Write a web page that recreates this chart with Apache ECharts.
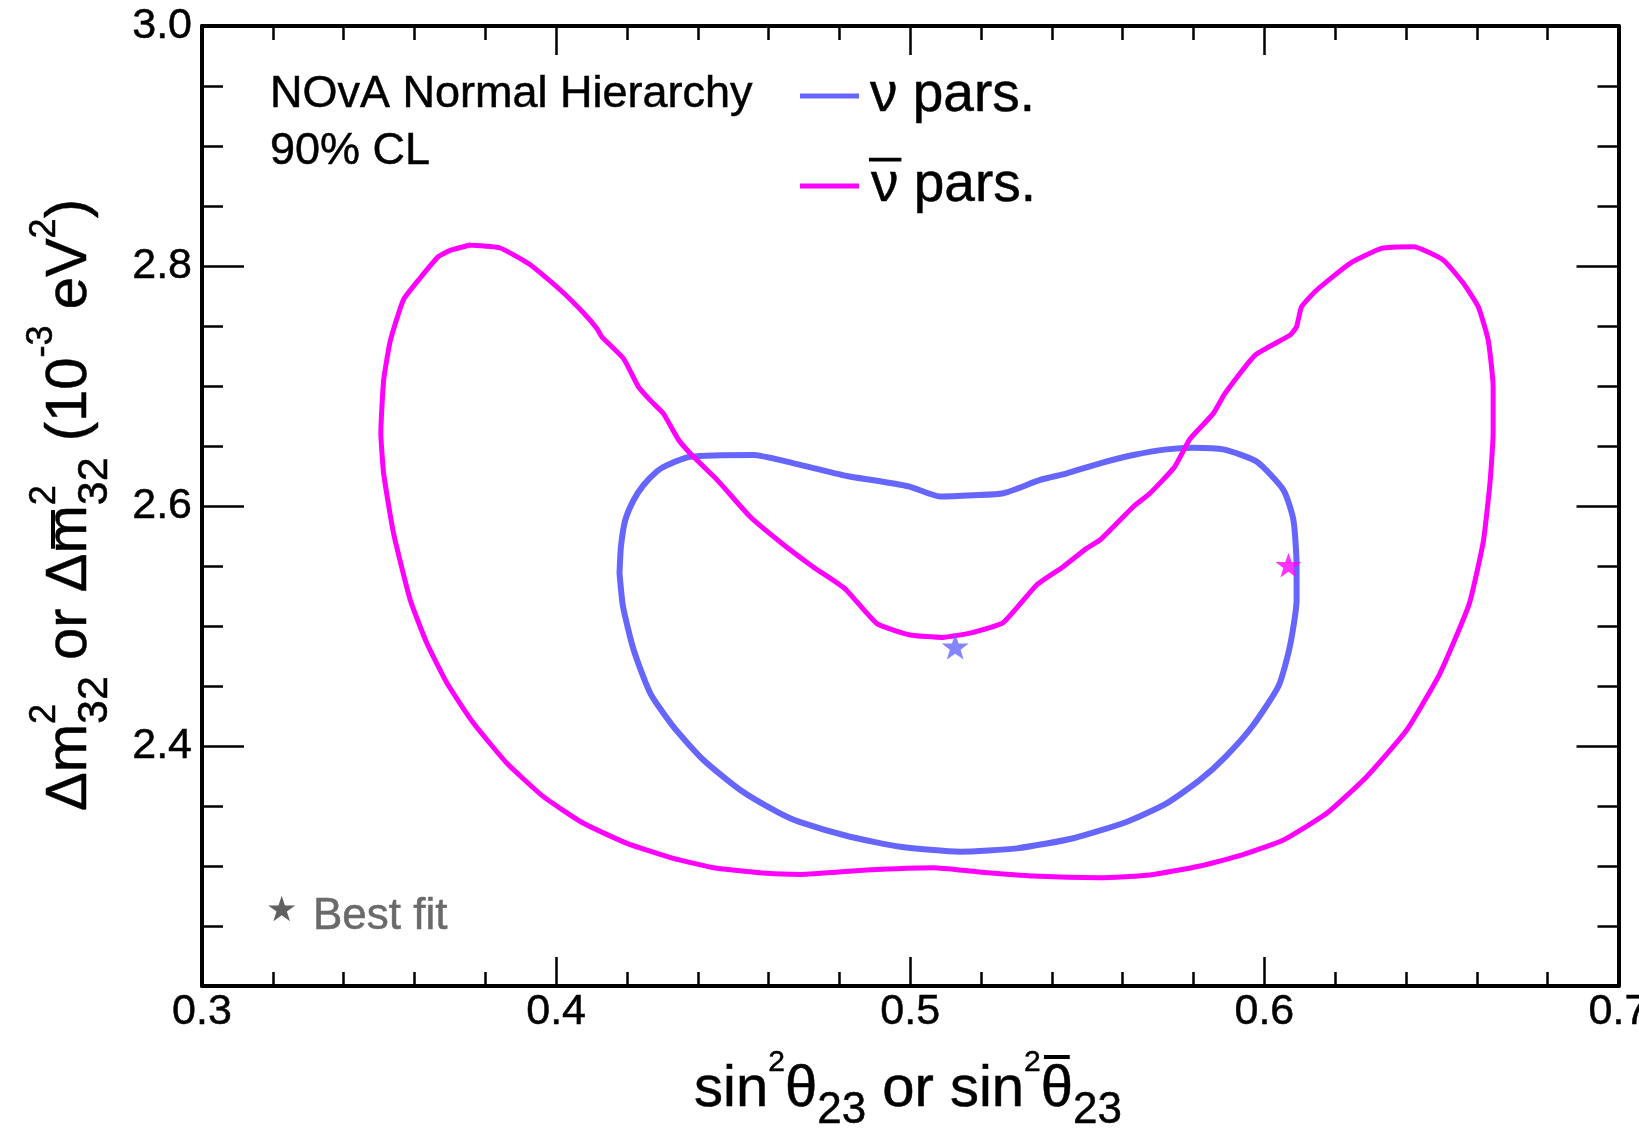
<!DOCTYPE html>
<html>
<head>
<meta charset="utf-8">
<script src="https://cdn.jsdelivr.net/npm/echarts@6/dist/echarts.min.js"></script>
<style>
html,body{margin:0;padding:0;background:#fff;}
#chart{width:1639px;height:1135px;}
</style>
</head>
<body>
<div id="chart"></div>
<script>
// ---------------- DATA ----------------
// neutrino (nu) 90% CL contour
const nuX = [0.4179,0.4183,0.4195,0.4219,0.4247,0.4285,0.4313,0.4379,0.4557,0.4651,0.4821,0.4906,0.5000,0.5084,0.5178,0.5263,0.5367,0.5442,0.5536,0.5630,0.5724,0.5800,0.5884,0.5978,0.6054,0.6082,0.6091,0.6091,0.6072,0.6040,0.5965,0.5890,0.5818,0.5724,0.5612,0.5461,0.5301,0.5141,0.4972,0.4830,0.4689,0.4623,0.4520,0.4416,0.4331,0.4266,0.4219,0.4189,0.4179];
const nuY = [2.544,2.566,2.588,2.605,2.6175,2.629,2.634,2.641,2.6425,2.637,2.625,2.621,2.616,2.608,2.609,2.6106,2.6217,2.6272,2.6356,2.6425,2.6472,2.6486,2.6472,2.637,2.6133,2.5883,2.5494,2.5217,2.483,2.450,2.416,2.391,2.3717,2.3522,2.3369,2.3231,2.3147,2.3119,2.3161,2.3244,2.3365,2.3453,2.3633,2.3883,2.4161,2.4439,2.480,2.516,2.544];
// antineutrino (nubar) 90% CL contour
const nubarX = [0.3757,0.3842,0.3927,0.4012,0.4077,0.4115,0.4129,0.4190,0.4233,0.4266,0.4303,0.4346,0.4388,0.4454,0.4548,0.4637,0.4727,0.4816,0.4906,0.5000,0.5090,0.5175,0.5263,0.5357,0.5432,0.5498,0.5536,0.5630,0.5677,0.5745,0.5775,0.5790,0.5856,0.5889,0.5974,0.6073,0.6091,0.6105,0.6148,0.6242,0.6331,0.6421,0.6505,0.6562,0.6604,0.6632,0.6646,0.6646,0.6637,0.6618,0.6578,0.6496,0.6402,0.6289,0.6176,0.6054,0.5935,0.5818,0.5677,0.5536,0.5348,0.5188,0.5066,0.4877,0.4689,0.4595,0.4454,0.4331,0.4200,0.4077,0.3964,0.3861,0.3767,0.3692,0.3635,0.3588,0.3541,0.3513,0.3505,0.3513,0.3532,0.3569,0.3616,0.3668,0.3701,0.3757];
const nubarY = [2.8175,2.815,2.801,2.780,2.761,2.748,2.741,2.723,2.699,2.688,2.677,2.655,2.641,2.622,2.591,2.569,2.549,2.531,2.502,2.4925,2.4905,2.4945,2.503,2.5342,2.5494,2.5647,2.5717,2.5994,2.6106,2.632,2.648,2.656,2.6772,2.6939,2.7258,2.7425,2.7494,2.766,2.780,2.8022,2.8147,2.8161,2.805,2.7856,2.766,2.7383,2.6994,2.6606,2.6189,2.570,2.518,2.4606,2.4133,2.3744,2.3439,2.3217,2.309,2.300,2.2925,2.2903,2.2917,2.2953,2.2986,2.2967,2.2930,2.2939,2.2981,2.3064,2.3189,2.3356,2.3578,2.3856,2.4189,2.4522,2.4856,2.5217,2.577,2.627,2.661,2.705,2.738,2.772,2.790,2.808,2.813,2.8175];
// best fit points [sin^2, dm^2]
const bestFitNu = [0.5127, 2.4828];
const bestFitNubar = [0.6068, 2.5508];
// axis tick labels
const xTickLabels = ['0.3','0.4','0.5','0.6','0.7'];
const yTickLabels = ['2.4','2.6','2.8','3.0'];
const seriesNames = ['\u03bd pars.', '\u03bd\u0304 pars.'];

// ---------------- LAYOUT ----------------
const FONT = '"Liberation Sans", Arial, Helvetica, sans-serif';
const BLUE = '#6666ff';
const MAGENTA = '#ff00ff';
const STAR = 'path://M0,-10 L2.35,-3.24 L9.51,-3.09 L3.8,1.24 L5.88,8.09 L0,4 L-5.88,8.09 L-3.8,1.24 L-9.51,-3.09 L-2.35,-3.24 Z';
const STROKE = 0.5;

const measureCtx = document.createElement('canvas').getContext('2d');
function textWidth(t, size) {
  measureCtx.font = size + 'px ' + FONT;
  return measureCtx.measureText(t).width;
}
// build a group of text pieces (super/subscripts, overbars), optionally rotated
function richTitle(segs, cx, cy, rotation) {
  let total = 0;
  segs.forEach(s => { if (!s.stack) total += textWidth(s.t, s.s); });
  let x = -total / 2;
  const children = [];
  segs.forEach(s => {
    const w = textWidth(s.t, s.s);
    children.push({
      type: 'text', x: x, y: s.c,
      style: { text: s.t, font: s.s + 'px ' + FONT, fill: '#000', align: 'left', verticalAlign: 'middle',
               stroke: '#000', lineWidth: STROKE }
    });
    if (s.bar != null) {
      children.push({
        type: 'rect', shape: { x: x + w * 0.1, y: s.bar - 2, width: w * 0.8, height: 4 },
        style: { fill: '#000' }
      });
    }
    if (!s.stack) x += w;
  });
  return { type: 'group', x: cx, y: cy, rotation: rotation, children: children, silent: true };
}

const xTitle = richTitle([
  { t: 'sin', s: 58, c: 0 },
  { t: '2', s: 30, c: -27 },
  { t: '\u03b8', s: 58, c: 0 },
  { t: '23', s: 44, c: 21 },
  { t: ' or sin', s: 58, c: 0 },
  { t: '2', s: 30, c: -27 },
  { t: '\u03b8', s: 58, c: 0, bar: -33 },
  { t: '23', s: 44, c: 21 }
], 908, 1090, 0);

const yTitle = richTitle([
  { t: '\u0394m', s: 58, c: 0 },
  { t: '2', s: 36, c: -25, stack: true },
  { t: '32', s: 43, c: 25 },
  { t: ' or \u0394', s: 58, c: 0 },
  { t: 'm', s: 58, c: 0, bar: -17 },
  { t: '2', s: 36, c: -25, stack: true },
  { t: '32', s: 43, c: 25 },
  { t: ' (10', s: 58, c: 0 },
  { t: '-3', s: 36, c: -28 },
  { t: ' eV', s: 58, c: 0 },
  { t: '2', s: 36, c: -25 },
  { t: ')', s: 58, c: 0 }
], 70, 505, Math.PI / 2);

const axisCommon = {
  type: 'value',
  axisLine: { show: true, onZero: false, lineStyle: { color: '#000', width: 4 } },
  splitLine: { show: false }
};
const tickStyle = { color: '#000', width: 2.5 };

const chart = echarts.init(document.getElementById('chart'), null, { renderer: 'canvas' });
chart.setOption({
  animation: false,
  backgroundColor: '#fff',
  grid: { left: 202, right: 20.5, top: 26, bottom: 149, containLabel: false, outerBoundsMode: 'none' },
  xAxis: [
    Object.assign({}, axisCommon, {
      position: 'bottom', min: 0.3, max: 0.7, interval: 0.1,
      axisTick: { show: true, inside: true, length: 29, lineStyle: tickStyle },
      minorTick: { show: true, splitNumber: 5, length: 14, lineStyle: tickStyle },
      axisLabel: {
        show: true, margin: 5, color: '#000', fontSize: 43, fontFamily: FONT,
        textBorderColor: '#000', textBorderWidth: STROKE,
        formatter: v => xTickLabels.find(l => Math.abs(parseFloat(l) - v) < 1e-6) || ''
      }
    }),
    Object.assign({}, axisCommon, {
      position: 'top', min: 0.3, max: 0.7, interval: 0.1,
      axisTick: { show: true, inside: true, length: 29, lineStyle: tickStyle },
      minorTick: { show: true, splitNumber: 5, length: 14, lineStyle: tickStyle },
      axisLabel: { show: false }
    })
  ],
  yAxis: [
    Object.assign({}, axisCommon, {
      position: 'left', min: 2.2, max: 3.0, interval: 0.2,
      axisTick: { show: true, inside: true, length: 42, lineStyle: tickStyle },
      minorTick: { show: true, splitNumber: 4, length: 21, lineStyle: tickStyle },
      axisLabel: {
        show: true, margin: 10, color: '#000', fontSize: 43, fontFamily: FONT,
        textBorderColor: '#000', textBorderWidth: STROKE,
        formatter: v => yTickLabels.find(l => Math.abs(parseFloat(l) - v) < 1e-6) || ''
      }
    }),
    Object.assign({}, axisCommon, {
      position: 'right', min: 2.2, max: 3.0, interval: 0.2,
      axisTick: { show: true, inside: true, length: 42, lineStyle: tickStyle },
      minorTick: { show: true, splitNumber: 4, length: 21, lineStyle: tickStyle },
      axisLabel: { show: false }
    })
  ],
  legend: {
    data: seriesNames,
    orient: 'vertical',
    left: 800, top: 66,
    padding: 0,
    itemWidth: 59, itemHeight: 5, itemGap: 30,
    icon: 'rect',
    selectedMode: false,
    formatter: name => name === seriesNames[1] ? '{bar|\u00af}{t|\u03bd pars.}' : '{t|' + name + '}',
    textStyle: {
      fontSize: 55, fontFamily: FONT, color: '#000', lineHeight: 60, padding: [0, 0, 0, 6],
      rich: {
        t: { fontSize: 55, fontFamily: FONT, color: '#000', lineHeight: 60, textBorderColor: '#000', textBorderWidth: STROKE },
        bar: { fontSize: 55, fontFamily: FONT, color: '#000', lineHeight: 60, width: 1, textBorderColor: '#000', textBorderWidth: 1.2 }
      }
    }
  },
  series: [
    {
      name: seriesNames[0], type: 'line', xAxisIndex: 0, yAxisIndex: 0,
      data: nuX.map((x, i) => [x, nuY[i]]),
      symbol: 'none', smooth: 0.2, color: BLUE,
      lineStyle: { color: BLUE, width: 6, join: 'round', cap: 'round' }, z: 3
    },
    {
      name: seriesNames[1], type: 'line', xAxisIndex: 0, yAxisIndex: 0,
      data: nubarX.map((x, i) => [x, nubarY[i]]),
      symbol: 'none', smooth: 0.15, color: MAGENTA,
      lineStyle: { color: MAGENTA, width: 5, join: 'round', cap: 'round' }, z: 4
    },
    {
      name: 'best fit nu', type: 'scatter', data: [bestFitNu],
      symbol: STAR, symbolSize: 27, symbolKeepAspect: true,
      itemStyle: { color: BLUE }, z: 6, silent: true
    },
    {
      name: 'best fit nubar', type: 'scatter', data: [bestFitNubar],
      symbol: STAR, symbolSize: 26, symbolKeepAspect: true,
      itemStyle: { color: MAGENTA }, z: 6, silent: true
    }
  ],
  graphic: [
    { type: 'text', x: 270, y: 95, silent: true,
      style: { text: 'NOvA Normal Hierarchy', font: '45px ' + FONT, fill: '#000', align: 'left', verticalAlign: 'middle', stroke: '#000', lineWidth: STROKE } },
    { type: 'text', x: 270, y: 152, silent: true,
      style: { text: '90% CL', font: '45px ' + FONT, fill: '#000', align: 'left', verticalAlign: 'middle', stroke: '#000', lineWidth: STROKE } },
    { type: 'text', x: 266, y: 912, silent: true,
      style: { text: '\u2605', font: '35px "DejaVu Sans", sans-serif', fill: '#606060', align: 'left', verticalAlign: 'middle' } },
    { type: 'text', x: 313, y: 917, silent: true,
      style: { text: 'Best fit', font: '44px ' + FONT, fill: '#6a6a6a', align: 'left', verticalAlign: 'middle', stroke: '#6a6a6a', lineWidth: STROKE } },
    xTitle,
    yTitle
  ]
});
</script>
</body>
</html>
